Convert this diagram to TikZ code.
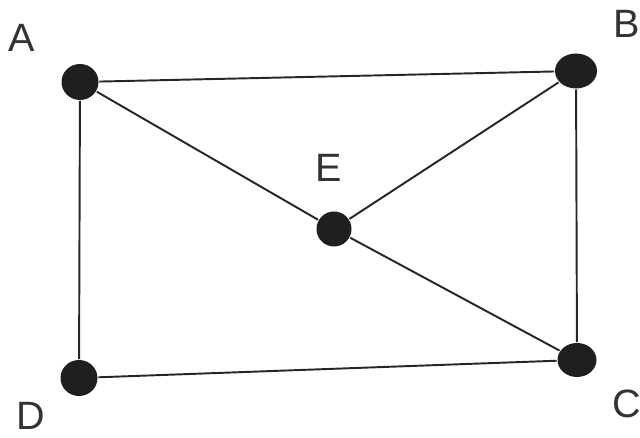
\documentclass[tikz,border=0pt]{standalone}
\usepackage{fontspec}
\setmainfont{Liberation Sans}
\usetikzlibrary{shapes.geometric}

\begin{document}
\begin{tikzpicture}[line width=1.1pt,
    dot/.style={ellipse, fill=black!88, draw=none, minimum width=0.74cm, minimum height=0.72cm, inner sep=0pt},
    lbl/.style={text=black!80, font=\fontsize{22.5pt}{26pt}\selectfont, inner sep=0pt}]
    \useasboundingbox (0,0) rectangle (12.8,8.76);

    % Vertices
    \node[dot] (A) at (1.60, 7.12) {};
    \node[dot, minimum width=0.84cm, minimum height=0.70cm] (B) at (11.52, 7.34) {};
    \node[dot, minimum width=0.78cm, minimum height=0.68cm] (C) at (11.54, 1.56) {};
    \node[dot] (D) at (1.58, 1.20) {};
    \node[dot, minimum width=0.70cm, minimum height=0.70cm] (E) at (6.68, 4.18) {};

    % Labels
    \node[lbl] (labA) at (0.44, 8.00) {A};
    \node[lbl] (labB) at (12.54, 8.28) {B};
    \node[lbl] (labC) at (12.54, 0.68) {C};
    \node[lbl] (labD) at (0.62, 0.44) {D};
    \node[lbl] (labE) at (6.58, 5.40) {E};

    % Edges
    \draw[black!85] (A) -- (B);
    \draw[black!85] (A) -- (D);
    \draw[black!85] (D) -- (C);
    \draw[black!85] (B) -- (C);
    \draw[black!85] (A) -- (E);
    \draw[black!85] (E) -- (C);
    \draw[black!85] (E) -- (B);
\end{tikzpicture}
\end{document}
